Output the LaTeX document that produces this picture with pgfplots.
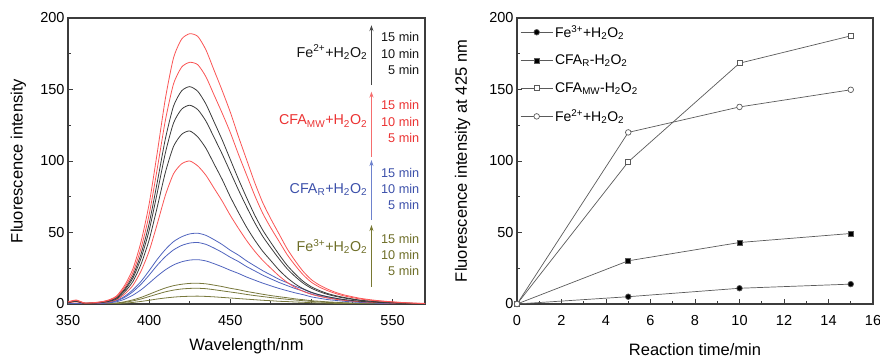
\documentclass[border=0pt]{standalone}
\usepackage{fontspec}
\setmainfont{Liberation Sans}
\usepackage{pgfplots}
\pgfplotsset{compat=1.18}
\usepackage{pgfplotstable}
\usetikzlibrary{arrows.meta}

\definecolor{specred}{RGB}{250,85,85}
\definecolor{specblack}{RGB}{60,60,60}
\definecolor{specblue}{RGB}{80,100,190}
\definecolor{specolive}{RGB}{120,120,60}
\definecolor{txtred}{RGB}{235,50,50}
\definecolor{txtblue}{RGB}{60,80,170}
\definecolor{txtolive}{RGB}{110,110,40}
\definecolor{txtblack}{RGB}{20,20,20}
\definecolor{arrred}{RGB}{245,110,110}
\definecolor{arrblue}{RGB}{110,130,205}
\definecolor{arrblack}{RGB}{70,70,70}
\definecolor{arrolive}{RGB}{120,120,50}
\definecolor{framec}{RGB}{60,60,60}
\definecolor{kinline}{RGB}{90,90,90}

\pgfplotstableread{
wl   f2a   f2b   f2c   mwa   mwb   mwc   ra   rb   rc   f3a  f3b  f3c
350  1.0   1.1   1.2   0.8   1.4   1.5   0    0    0    0    0    0
355  1.8   2.1   2.3   1.5   2.5   2.8   0.2  0.2  0.2  0    0.1  0.1
360  0.5   0.6   0.6   0.4   0.7   0.8   0.2  0.2  0.2  0    0.1  0.1
365  0.6   0.7   0.8   0.5   0.8   0.9   0.2  0.3  0.4  0    0.1  0.1
370  1.0   1.1   1.2   0.8   1.4   1.5   0.4  0.5  0.6  0.1  0.1  0.2
375  1.8   2.1   2.3   1.5   2.5   2.8   0.8  1.1  1.2  0.1  0.3  0.4
380  3.6   4.2   4.6   3.0   5.1   5.7   1.6  2.2  2.5  0.3  0.6  0.7
385  8.5   9.7   10.6  7.0   11.8  13.2  3.4  4.7  5.4  0.6  1.2  1.6
390  15.7  18.1  19.8  13.0  22.0  24.6  6.2  8.6  9.9  1.1  2.2  2.9
395  27.8  32.0  35.0  23.0  38.9  43.5  9.9  13.8 15.8 1.8  3.5  4.6
400  44.8  51.4  56.2  37.0  62.5  69.9  14.6 20.2 23.3 2.6  5.2  6.8
405  67.8  77.8  85.1  56.0  94.6  105.8 19.5 27.1 31.2 3.5  6.9  9.1
410  92.0  105.6 115.5 76.0  128.4 143.6 23.9 33.1 38.1 4.2  8.5  11.2
415  110.1 126.5 138.3 91.0  153.8 172.0 27.3 37.8 43.6 4.8  9.7  12.8
420  118.6 136.2 149.0 98.0  165.6 185.2 29.5 40.9 47.0 5.2  10.5 13.8
425  121.0 139.0 152.0 100.0 169.0 189.0 30.7 42.6 49.0 5.4  10.9 14.4
430  116.8 135.9 148.7 96.5  167.3 187.1 31.0 43.0 49.5 5.5  11.0 14.5
435  108.9 127.9 139.8 90.0  158.9 177.7 30.1 41.7 48.0 5.3  10.7 14.1
440  98.0  116.5 127.4 81.0  146.2 163.5 28.2 39.1 45.0 5.0  10.0 13.2
445  87.1  104.9 114.8 72.0  133.5 149.3 26.0 36.1 41.6 4.6  9.2  12.2
450  75.0  92.4  101.1 62.0  120.0 134.2 23.6 32.7 37.6 4.2  8.4  11.0
455  64.1  79.9  87.4  53.0  104.8 117.2 21.4 29.7 34.2 3.8  7.6  10.0
460  53.8  68.1  74.5  44.5  90.4  101.1 18.9 26.2 30.2 3.4  6.7  8.8
465  44.8  57.0  62.3  37.0  76.1  85.1  16.7 23.2 26.7 3.0  5.9  7.8
470  36.9  47.3  51.7  30.5  63.4  70.9  14.6 20.2 23.3 2.6  5.2  6.8
475  30.3  39.3  43.0  25.0  53.2  59.5  12.7 17.6 20.3 2.3  4.5  5.9
480  23.8  31.7  34.7  19.7  43.9  49.1  10.9 15.1 17.3 1.9  3.9  5.1
485  18.4  24.7  27.1  15.2  34.6  38.7  9.3  12.9 14.9 1.7  3.3  4.4
490  14.0  19.2  21.0  11.6  27.0  30.2  7.8  10.8 12.4 1.4  2.8  3.6
495  10.6  14.5  15.8  8.8   20.3  22.7  6.5  9.0  10.4 1.2  2.3  3.0
500  8.2   11.0  12.0  6.8   15.2  17.0  5.0  6.9  7.9  0.9  1.8  2.3
505  6.4   8.6   9.4   5.3   11.8  13.2  4.0  5.6  6.4  0.7  1.4  1.9
510  5.1   6.7   7.3   4.2   9.3   10.4  3.1  4.3  5.0  0.6  1.1  1.5
515  4.0   5.3   5.8   3.3   7.3   8.1   2.5  3.4  4.0  0.4  0.9  1.2
520  3.1   4.2   4.6   2.6   5.7   6.4   1.9  2.6  3.0  0.3  0.7  0.9
530  1.9   2.5   2.7   1.6   3.5   4.0   1.1  1.5  1.7  0.2  0.4  0.5
540  1.2   1.6   1.7   1.0   2.2   2.5   0.6  0.9  1.0  0.1  0.2  0.3
550  0.7   1.0   1.1   0.6   1.4   1.5   0.3  0.4  0.5  0.1  0.1  0.1
560  0.4   0.5   0.5   0.3   0.7   0.8   0.2  0.2  0.2  0    0.1  0.1
570  0.1   0.2   0.2   0.1   0.3   0.4   0.1  0.1  0.1  0    0    0
}\spectra

\pgfplotsset{
  myaxis/.style={
    scale only axis,
    height=286pt,
    anchor=south west,
    axis line style={framec, line width=1.1pt},
    tick align=inside,
    xtick pos=bottom, ytick pos=left,
    major tick length=5pt, minor tick length=3pt,
    every tick/.style={framec, line width=0.9pt},
    tick label style={font=\fontsize{14.5}{16}\selectfont},
    xticklabel style={yshift=-8pt},
    label style={font=\fontsize{16.5}{18}\selectfont},
    /pgf/number format/assume math mode=true,
    ymin=0, ymax=200, ytick={0,50,100,150,200}, minor y tick num=1,
  }
}

\newcommand{\hh}{H\textsubscript{2}O\textsubscript{2}}

\begin{document}
\begin{tikzpicture}
\useasboundingbox (0pt,0pt) rectangle (880pt,358pt);

% ---------- left: spectra ----------
\begin{axis}[myaxis,
  at={(68pt,54pt)}, width=357pt,
  xmin=350, xmax=570, xtick={350,400,450,500,550}, minor x tick num=1,
  xlabel={Wavelength/nm}, ylabel={Fluorescence intensity},
  xlabel style={at={(axis description cs:0.5,-0.147)}, anchor=center},
  ylabel style={at={(axis description cs:-0.139,0.5)}, anchor=center},
  every axis plot/.append style={line width=0.8pt, smooth, tension=0.4, no marks},
]
\addplot[specolive] table[x=wl,y=f3a] {\spectra};
\addplot[specolive] table[x=wl,y=f3b] {\spectra};
\addplot[specolive] table[x=wl,y=f3c] {\spectra};
\addplot[specblue] table[x=wl,y=ra] {\spectra};
\addplot[specblue] table[x=wl,y=rb] {\spectra};
\addplot[specblue] table[x=wl,y=rc] {\spectra};
\addplot[specred] table[x=wl,y=mwa] {\spectra};
\addplot[specblack] table[x=wl,y=f2a] {\spectra};
\addplot[specblack] table[x=wl,y=f2b] {\spectra};
\addplot[specblack] table[x=wl,y=f2c] {\spectra};
\addplot[specred] table[x=wl,y=mwb] {\spectra};
\addplot[specred] table[x=wl,y=mwc] {\spectra};

% annotations
\draw[arrblack, line width=1.3pt, -{Stealth[length=6pt,width=4pt]}] (axis cs:537,153) -- (axis cs:537,195);
\draw[arrred, line width=1.3pt, -{Stealth[length=6pt,width=4pt]}] (axis cs:537,103) -- (axis cs:537,148.5);
\draw[arrblue, line width=1.3pt, -{Stealth[length=6pt,width=4pt]}] (axis cs:537,58.7) -- (axis cs:537,100.7);
\draw[arrolive, line width=1.3pt, -{Stealth[length=6pt,width=4pt]}] (axis cs:537,12.1) -- (axis cs:537,55.2);

\begin{scope}[every node/.style={inner sep=0pt, font=\fontsize{12.7}{14}\selectfont, anchor=base east}]
\node[txtblack] at (axis cs:566.6,183.6) {15 min};
\node[txtblack] at (axis cs:566.6,172.0) {10 min};
\node[txtblack] at (axis cs:566.6,160.3) {5 min};
\node[txtred] at (axis cs:566.6,135.9) {15 min};
\node[txtred] at (axis cs:566.6,124.2) {10 min};
\node[txtred] at (axis cs:566.6,113.0) {5 min};
\node[txtblue] at (axis cs:566.6,88.8) {15 min};
\node[txtblue] at (axis cs:566.6,77.6) {10 min};
\node[txtblue] at (axis cs:566.6,66.4) {5 min};
\node[txtolive] at (axis cs:566.6,42.2) {15 min};
\node[txtolive] at (axis cs:566.6,31.0) {10 min};
\node[txtolive] at (axis cs:566.6,19.8) {5 min};
\end{scope}
\begin{scope}[every node/.style={inner sep=0pt, font=\fontsize{14.3}{16}\selectfont, anchor=base east}]
\node[txtblack] at (axis cs:534.5,172.7) {Fe\textsuperscript{2+}+\hh};
\node[txtred] at (axis cs:534.5,125.2) {CFA\textsubscript{MW}+\hh};
\node[txtblue] at (axis cs:534.5,77.4) {CFA\textsubscript{R}+\hh};
\node[txtolive] at (axis cs:534.5,36.6) {Fe\textsuperscript{3+}+\hh};
\end{scope}
\end{axis}

% ---------- right: kinetics ----------
\begin{axis}[myaxis,
  at={(517pt,54pt)}, width=356pt,
  xmin=0, xmax=16, xtick={0,2,...,16}, minor x tick num=1,
  xlabel={Reaction time/min}, ylabel={Fluorescence intensity at 425 nm},
  xlabel style={at={(axis description cs:0.5,-0.16)}, anchor=center},
  ylabel style={at={(axis description cs:-0.153,0.5)}, anchor=center},
  clip=false,
  legend style={at={(axis description cs:0.006,0.985)}, anchor=north west,
    draw=none, fill=none, font=\fontsize{14}{16}\selectfont,
    row sep=12pt, inner sep=1pt},
  legend cell align=left,
  legend image code/.code={\draw[#1, mark repeat=2, mark phase=2] plot coordinates {(0pt,0pt) (16pt,0pt) (32pt,0pt)};},
  every axis plot/.append style={kinline, line width=0.7pt, mark size=2.8pt, mark options={solid, draw=black, line width=0.6pt}},
]
\addplot[mark=*, mark options={fill=black}] coordinates {(0,0) (5,5.1) (10,11.0) (15,13.9)};
\addlegendentry{Fe\textsuperscript{3+}+\hh}
\addplot[mark=square*, mark size=2.5pt, mark options={fill=black}] coordinates {(0,0) (5,30.2) (10,43.0) (15,49.3)};
\addlegendentry{CFA\textsubscript{R}-\hh}
\addplot[mark=square*, mark size=2.5pt, mark options={fill=white}] coordinates {(0,0) (5,99.4) (10,168.4) (15,187.5)};
\addlegendentry{CFA\textsubscript{MW}-\hh}
\addplot[mark=*, mark options={fill=white}] coordinates {(0,0) (5,120.0) (10,137.8) (15,149.8)};
\addlegendentry{Fe\textsuperscript{2+}+\hh}
\end{axis}
\end{tikzpicture}
\end{document}
